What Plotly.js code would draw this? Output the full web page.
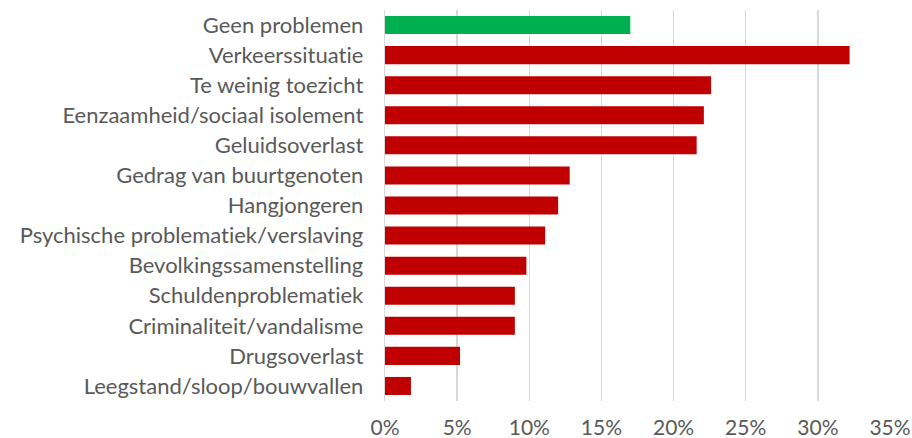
<!DOCTYPE html>
<html>
<head>
<meta charset="utf-8">
<script src="https://cdn.plot.ly/plotly-3.0.1.min.js"></script>
<style>
html,body{margin:0;padding:0;background:#fff;}
#chart{width:912px;height:438px;}
#chart svg text{font-variant-ligatures:none !important;font-feature-settings:"liga" 0, "clig" 0 !important;}
</style>
</head>
<body>
<div id="chart"></div>
<script>
const categories = [
  "Geen problemen",
  "Verkeerssituatie",
  "Te weinig toezicht",
  "Eenzaamheid/sociaal isolement",
  "Geluidsoverlast",
  "Gedrag van buurtgenoten",
  "Hangjongeren",
  "Psychische problematiek/verslaving",
  "Bevolkingssamenstelling",
  "Schuldenproblematiek",
  "Criminaliteit/vandalisme",
  "Drugsoverlast",
  "Leegstand/sloop/bouwvallen"
];
const values = [0.170, 0.322, 0.226, 0.221, 0.216, 0.128, 0.120, 0.111, 0.098, 0.090, 0.090, 0.052, 0.018];
const xTickValues = [0, 0.05, 0.10, 0.15, 0.20, 0.25, 0.30, 0.35];
const xTickLabels = ["0%", "5%", "10%", "15%", "20%", "25%", "30%", "35%"];

const barColors = categories.map((c, i) => i === 0 ? "#00B050" : "#C00000");

const trace = {
  type: "bar",
  orientation: "h",
  x: values,
  y: categories,
  width: 0.6,
  marker: { color: barColors, line: { width: 0 } },
  hoverinfo: "x+y"
};

const layout = {
  width: 912,
  height: 438,
  margin: { l: 385, r: 22, t: 10, b: 37, pad: 0 },
  paper_bgcolor: "#ffffff",
  plot_bgcolor: "#ffffff",
  showlegend: false,
  font: { family: "Lato, 'Open Sans', sans-serif", size: 22, color: "#595959" },
  bargap: 0.4,
  xaxis: {
    range: [0, 0.35],
    tickvals: xTickValues,
    ticktext: xTickLabels,
    showgrid: true,
    gridcolor: "#D9D9D9",
    gridwidth: 1.3,
    zeroline: false,
    showline: false,
    ticks: "",
    ticklabelstandoff: 12,
    tickfont: { family: "Lato, 'Open Sans', sans-serif", size: 21, color: "#595959" },
    fixedrange: true
  },
  yaxis: {
    type: "category",
    autorange: "reversed",
    showgrid: false,
    zeroline: false,
    showline: true,
    linecolor: "#D9D9D9",
    linewidth: 1.3,
    ticks: "",
    ticklabelstandoff: 16,
    tickfont: { family: "Lato, 'Open Sans', sans-serif", size: 22, color: "#595959" },
    fixedrange: true
  }
};

Plotly.newPlot("chart", [trace], layout, { displayModeBar: false, staticPlot: true });
</script>
</body>
</html>
